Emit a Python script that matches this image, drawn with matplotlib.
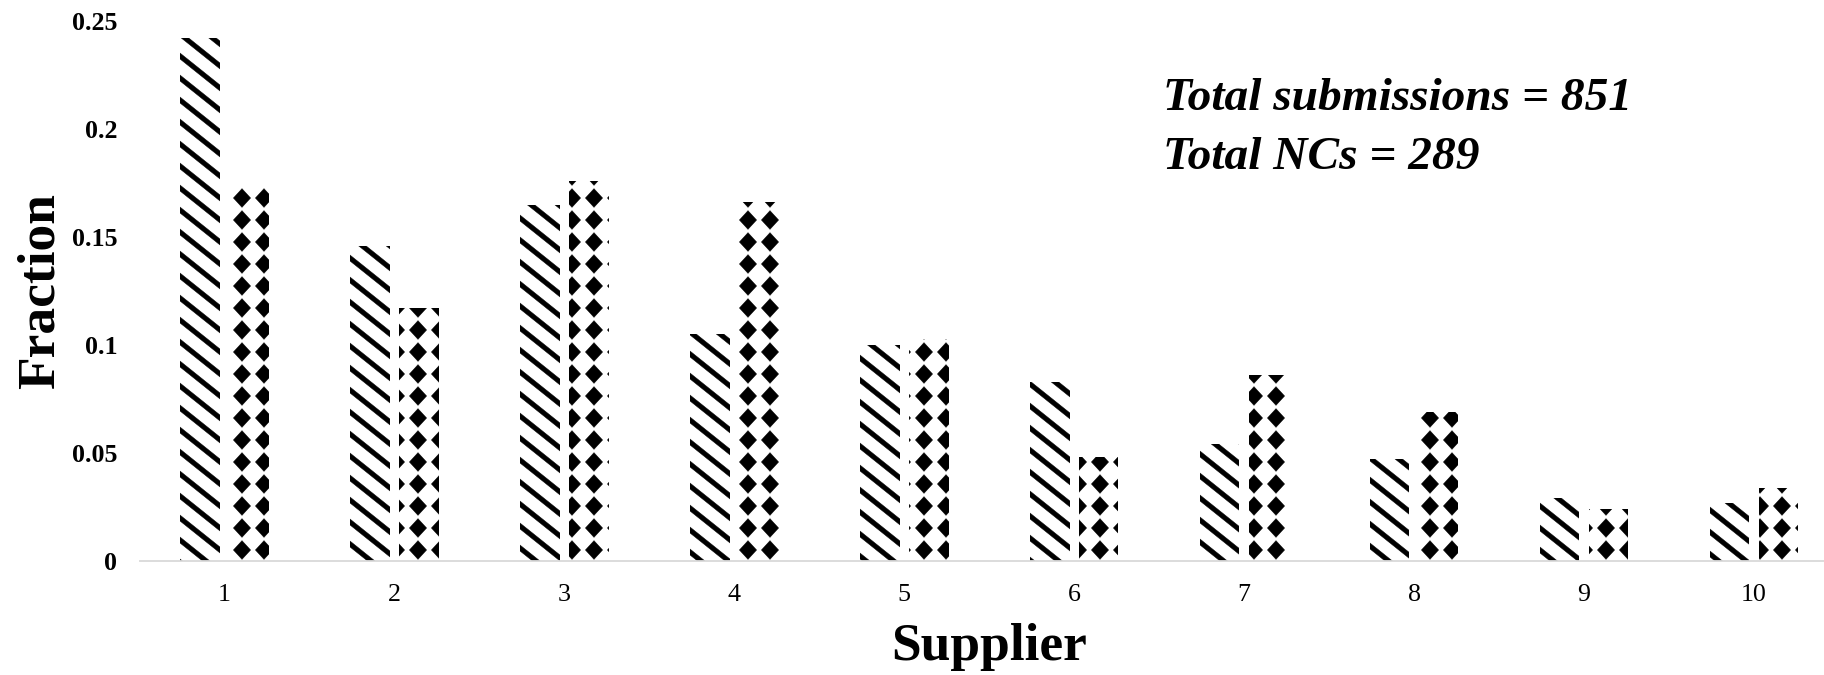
import numpy as np
import matplotlib
matplotlib.use('Agg')
import matplotlib.pyplot as plt
import matplotlib.hatch as mhatch
from matplotlib.path import Path

suppliers = ['1', '2', '3', '4', '5', '6', '7', '8', '9', '10']
submissions = [0.242, 0.146, 0.165, 0.105, 0.100, 0.083, 0.054, 0.047, 0.029, 0.027]
ncs = [0.173, 0.117, 0.176, 0.166, 0.103, 0.048, 0.086, 0.069, 0.024, 0.034]
yticks = [0, 0.05, 0.1, 0.15, 0.2, 0.25]
ytick_labels = ['0', '0.05', '0.1', '0.15', '0.2', '0.25']
total_submissions = 851
total_ncs = 289

DPI = 110  # hatch tile = DPI pixels, 5 repeats -> ~22 px like the original


# Excel-like fill patterns: wide downward stripes and solid diamonds
class Stripes(mhatch.HatchPatternBase):
    def __init__(self, hatch, density):
        self.n = 5 if '\\' in hatch else 0
        self.k = 4  # drop over one tile width, in stripe periods
        self.count = self.n + self.k + 3 if self.n else 0
        self.num_vertices = self.count * 5

    def set_vertices_and_codes(self, vertices, codes):
        n, k = self.n, self.k
        s = k / n
        h = 0.027
        x0, x1 = -0.1, 1.1
        verts = []
        for i in range(-1, n + k + 2):
            c = i / n
            y0, y1 = c - s * x0, c - s * x1
            verts += [(x0, y0 + h), (x1, y1 + h), (x1, y1 - h), (x0, y0 - h), (x0, y0 + h)]
        vertices[:] = verts
        codes[:] = [Path.MOVETO, Path.LINETO, Path.LINETO, Path.LINETO,
                    Path.CLOSEPOLY] * self.count


class Diamonds(mhatch.HatchPatternBase):
    def __init__(self, hatch, density):
        self.n = 5 if '*' in hatch else 0
        self.num_vertices = (self.n + 1) ** 2 * 5 if self.n else 0

    def set_vertices_and_codes(self, vertices, codes):
        n = self.n
        hw, hh = 0.078, 0.085
        shape = np.array([[0, hh], [-hw, 0], [0, -hh], [hw, 0], [0, hh]])
        parts = [shape + [i / n, j / n] for i in range(n + 1) for j in range(n + 1)]
        vertices[:] = np.concatenate(parts)
        codes[:] = np.tile([Path.MOVETO, Path.LINETO, Path.LINETO, Path.LINETO,
                            Path.CLOSEPOLY], (n + 1) ** 2)


mhatch._hatch_types = [Stripes if t is mhatch.SouthEastHatch
                       else Diamonds if t is mhatch.Stars else t
                       for t in mhatch._hatch_types]

plt.rcParams['font.family'] = ['Liberation Serif', 'DejaVu Serif']
plt.rcParams['hatch.linewidth'] = 0.3
plt.rcParams['hatch.color'] = 'black'

fig = plt.figure(figsize=(1824 / DPI, 675 / DPI), dpi=DPI)
ax = fig.add_axes([0.0765, 0.1689, 0.9317, 0.8])

x = np.arange(len(suppliers))
w = 0.233
off = 0.144
ax.bar(x - off, submissions, w, color='white', edgecolor='black', linewidth=0, hatch='\\')
ax.bar(x + off, ncs, w, color='white', edgecolor='black', linewidth=0, hatch='*')

ax.set_xlim(-0.5, len(suppliers) - 0.5)
ax.set_ylim(0, 0.25)
ax.set_xticks(x)
ax.set_xticklabels(suppliers, fontsize=17)
ax.set_yticks(yticks)
ax.set_yticklabels(ytick_labels, fontsize=17, fontweight='bold')
ax.tick_params(axis='both', length=0)
ax.tick_params(axis='x', pad=15)
ax.tick_params(axis='y', pad=14.5)

for sp in ['top', 'right', 'left']:
    ax.spines[sp].set_visible(False)
ax.spines['bottom'].set_color('#d9d9d9')
ax.spines['bottom'].set_linewidth(1.2)

ax.set_xlabel('Supplier', fontsize=35, fontweight='bold', labelpad=11)
ax.set_ylabel('Fraction', fontsize=35, fontweight='bold', labelpad=4.5)

fig.text(0.6376, 1 - 110 / 675, f'Total submissions = {total_submissions}',
         fontsize=31, fontweight='bold', fontstyle='italic', va='baseline')
fig.text(0.6376, 1 - 169 / 675, f'Total NCs = {total_ncs}',
         fontsize=31, fontweight='bold', fontstyle='italic', va='baseline')

fig.savefig('out.png', dpi=DPI)
